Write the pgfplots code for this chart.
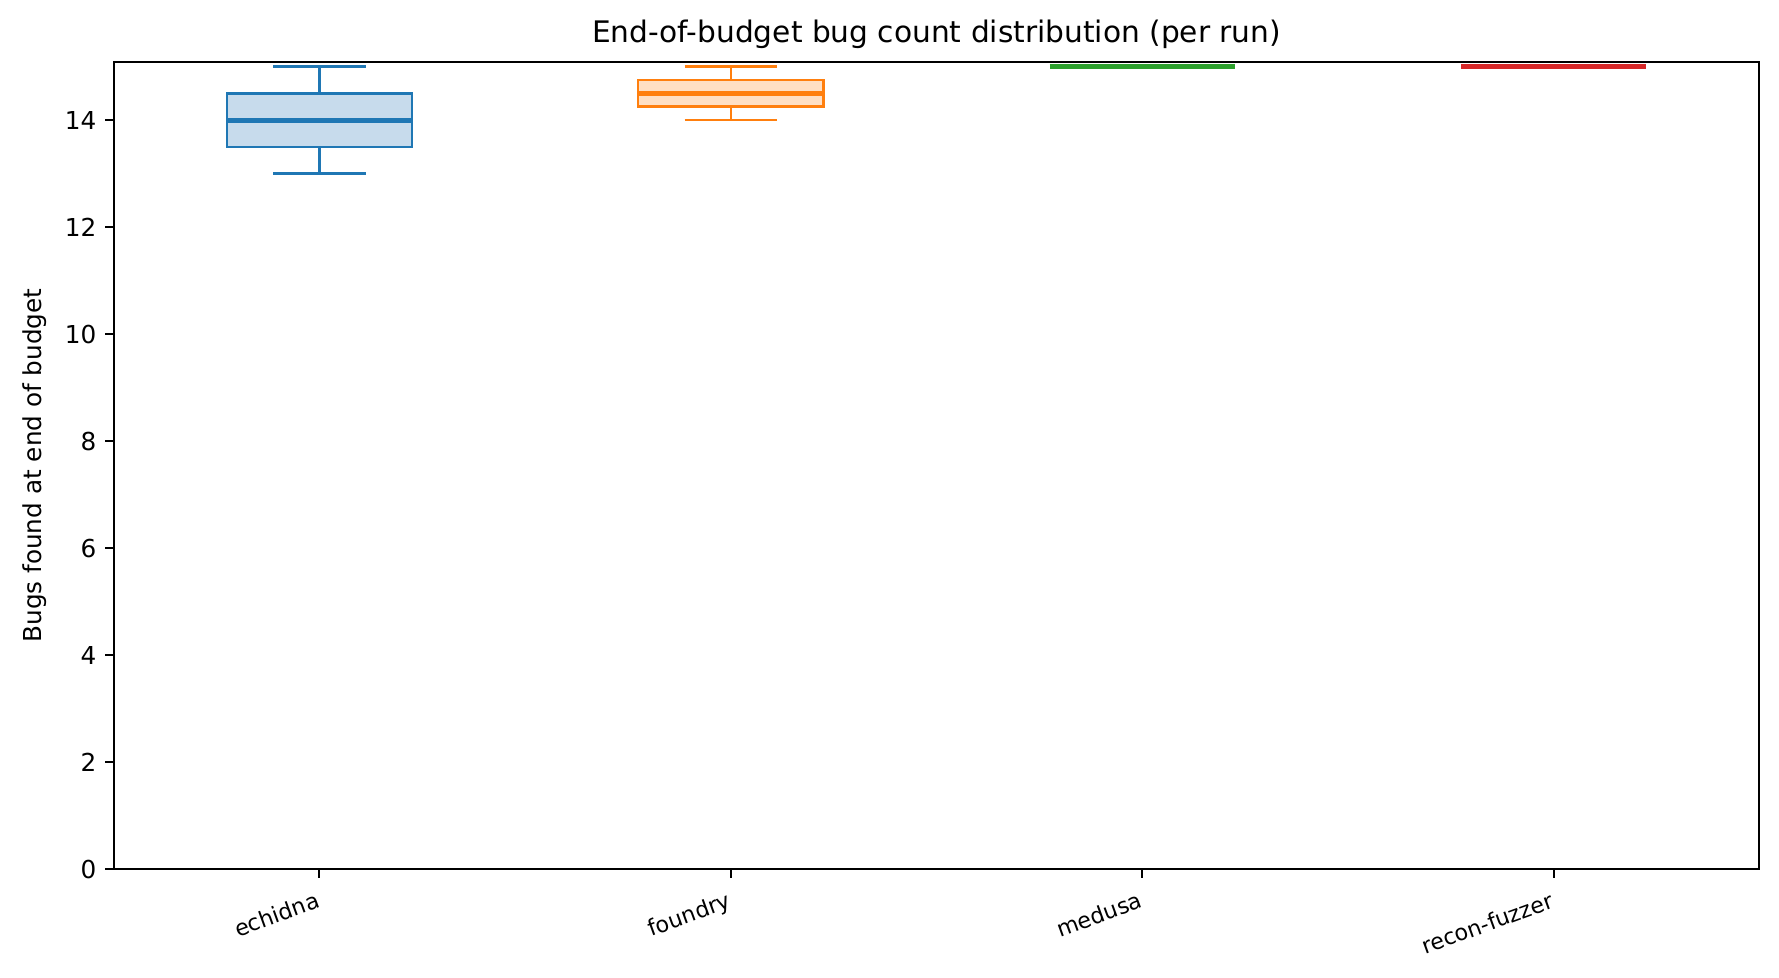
\documentclass[border=0pt]{standalone}
\usepackage{fontspec}
\setmainfont{DejaVu Sans}
\usepackage{pgfplots}
\pgfplotsset{compat=1.18}

\definecolor{tabblue}{HTML}{1F77B4}
\definecolor{tabbluel}{HTML}{C7DBEC}
\definecolor{taborange}{HTML}{FF7F0E}
\definecolor{taborangel}{HTML}{FFDFC3}
\definecolor{tabgreen}{HTML}{2CA02C}
\definecolor{tabred}{HTML}{D62728}

\begin{document}
\begin{tikzpicture}
\begin{axis}[
	scale only axis,
	width=666.1pt, height=326.8pt,
	xmin=0.5, xmax=4.5,
	ymin=0, ymax=15.09,
	xtick={1,2,3,4},
	xticklabels={echidna,foundry,medusa,recon-fuzzer},
	ytick={0,2,...,14},
	xtick pos=left, ytick pos=left,
	tick align=outside,
	major tick length=3.5pt,
	every tick/.style={black, line width=0.8pt},
	axis line style={line width=0.8pt},
	/pgf/number format/assume math mode=true,
	tick label style={font=\fontsize{10}{12}\selectfont},
	x tick label style={rotate=20, anchor=north east,
		font=\fontsize{9}{11}\selectfont, yshift=-1pt},
	title={End-of-budget bug count distribution (per run)},
	title style={at={(axis description cs:0.5,1)}, anchor=base,
		yshift=1.8pt, font=\fontsize{12}{14}\selectfont},
	ylabel={Bugs found at end of budget},
	ylabel style={at={(axis description cs:-0.048,0.5)}, anchor=center,
		font=\fontsize{10}{12}\selectfont},
	unbounded coords=jump,
	mark=none,
]
% box half width 0.225, cap half width 0.1125
% echidna: whiskers 13/15, quartiles 13.5/14.5, median 14
\addplot[draw=tabblue, fill=tabbluel, line width=1pt]
	coordinates {(0.775,13.5) (1.225,13.5) (1.225,14.5) (0.775,14.5)} -- cycle;
\addplot[draw=tabblue, line width=1pt]
	coordinates {(1,13.5) (1,13) (1,nan) (1,14.5) (1,15) (1,nan)
		(0.8875,13) (1.1125,13) (1.1125,nan) (0.8875,15) (1.1125,15)};
\addplot[draw=tabblue, line width=2pt]
	coordinates {(0.775,14) (1.225,14)};
% foundry: whiskers 14/15, quartiles 14.25/14.75, median 14.5
\addplot[draw=taborange, fill=taborangel, line width=1pt]
	coordinates {(1.775,14.25) (2.225,14.25) (2.225,14.75) (1.775,14.75)} -- cycle;
\addplot[draw=taborange, line width=1pt]
	coordinates {(2,14.25) (2,14) (2,nan) (2,14.75) (2,15) (2,nan)
		(1.8875,14) (2.1125,14) (2.1125,nan) (1.8875,15) (2.1125,15)};
\addplot[draw=taborange, line width=2pt]
	coordinates {(1.775,14.5) (2.225,14.5)};
% medusa: all runs at 15
\addplot[draw=tabgreen, line width=2pt]
	coordinates {(2.775,15) (3.225,15)};
% recon-fuzzer: all runs at 15
\addplot[draw=tabred, line width=2pt]
	coordinates {(3.775,15) (4.225,15)};
\end{axis}
\pgfresetboundingbox
\useasboundingbox (-46.0pt,-43.7pt) rectangle (674.0pt,351.8pt);
\end{tikzpicture}
\end{document}
